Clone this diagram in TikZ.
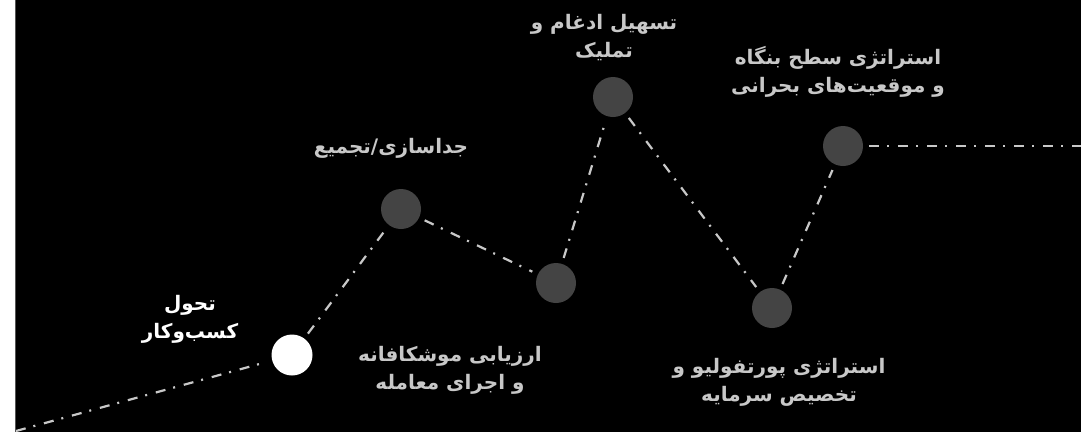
\documentclass[tikz,border=0pt]{standalone}
\usepackage{fontspec}
\TeXXeTstate=1
\newfontfamily\arabicfont[Script=Arabic]{DejaVu Sans}
\definecolor{lbl}{HTML}{C8C8C8}
\definecolor{stagegray}{HTML}{444444}
\definecolor{edgegray}{HTML}{555555}
\begin{document}
\begin{tikzpicture}[x=1pt,y=-1pt,
  stage/.style={circle, fill=stagegray, minimum size=40pt, inner sep=0pt},
  link/.style={draw=lbl, line width=2.2pt, dash pattern=on 10pt off 8pt on 2pt off 9pt, shorten >=6pt, shorten <=6pt},
  lab/.style={text=lbl, font=\arabicfont\bfseries\fontsize{20}{28}\selectfont, align=center}]
\useasboundingbox (0,0) rectangle (1081,432);
\fill[white] (0,0) rectangle (1081,432);
\fill[black] (15,0) rectangle (1081,432);
\draw[edgegray, line width=1.2pt] (15.5,0) -- (15.5,432);
\begin{scope}
\clip (16,0) rectangle (1081,432);
\coordinate (start) at (16,431);
\coordinate (finish) at (1081,146);
\node[stage, fill=white, minimum size=41pt] (n0) at (292,355) {};
\node[stage] (n1) at (401,209) {};
\node[stage] (n2) at (556,283) {};
\node[stage] (n3) at (613,97) {};
\node[stage] (n4) at (772,308) {};
\node[stage] (n5) at (843,146) {};
\draw[link, shorten <=0pt] (start) -- (n0);
\draw[link] (n0) -- (n1);
\draw[link] (n1) -- (n2);
\draw[link] (n2) -- (n3);
\draw[link] (n3) -- (n4);
\draw[link] (n4) -- (n5);
\draw[link, shorten >=0pt] (n5) -- (finish);
\node[lab, text=white] (l0) at (190,319) {\beginR تحول\endR\\\beginR کسب‌وکار\endR};
\node[lab] (l1) at (391,148) {\beginR جداسازی/تجمیع\endR};
\node[lab] (l2) at (604,38) {\beginR تسهیل ادغام و\endR\\\beginR تملیک\endR};
\node[lab] (l3) at (838,72) {\beginR استراتژی سطح بنگاه\endR\\\beginR و موقعیت‌های بحرانی\endR};
\node[lab] (l4) at (450,370) {\beginR ارزیابی موشکافانه\endR\\\beginR و اجرای معامله\endR};
\node[lab] (l5) at (779,382) {\beginR استراتژی پورتفولیو و\endR\\\beginR تخصیص سرمایه\endR};
\end{scope}
\end{tikzpicture}
\end{document}
